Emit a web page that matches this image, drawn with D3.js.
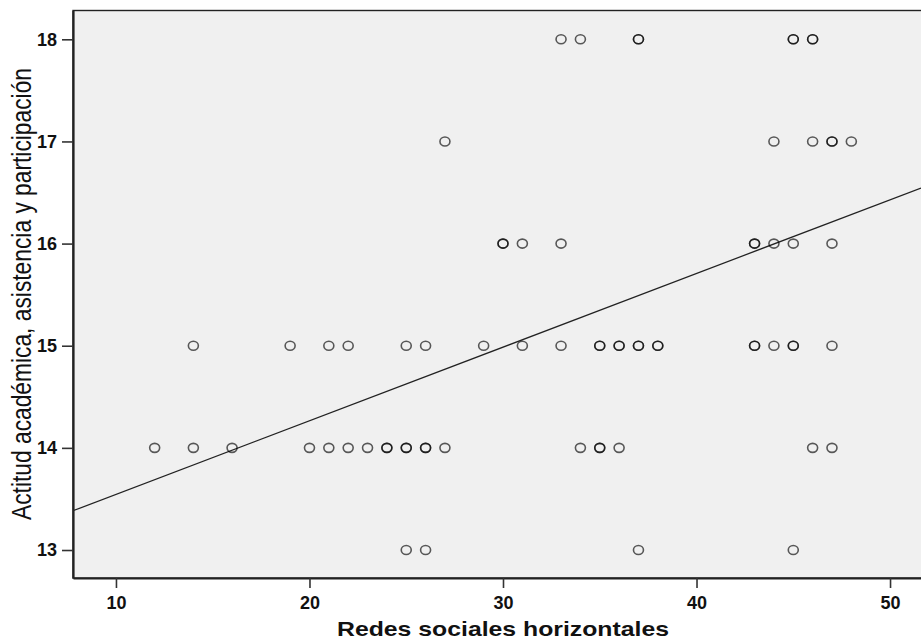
<!DOCTYPE html>
<html>
<head>
<meta charset="utf-8">
<script src="https://cdn.jsdelivr.net/npm/d3@7"></script>
<style>
  html, body { margin: 0; padding: 0; background: #ffffff; }
  svg { display: block; }
</style>
</head>
<body>
<svg id="chart" width="921" height="642"></svg>
<script>
// ---- data ----
const redesX = [
  33, 34, 37, 37, 45, 45, 46, 46,
  27, 44, 46, 47, 47, 48,
  30, 30, 31, 33, 43, 43, 44, 45, 47,
  14, 19, 21, 22, 25, 26, 29, 31, 33, 35, 35, 36, 36, 37, 37, 38, 38, 43, 43, 44, 45, 45, 47,
  12, 14, 16, 20, 21, 22, 23, 24, 24, 25, 25, 26, 26, 27, 34, 35, 35, 36, 46, 47,
  25, 26, 37, 45
];
const actitudY = [
  18, 18, 18, 18, 18, 18, 18, 18,
  17, 17, 17, 17, 17, 17,
  16, 16, 16, 16, 16, 16, 16, 16, 16,
  15, 15, 15, 15, 15, 15, 15, 15, 15, 15, 15, 15, 15, 15, 15, 15, 15, 15, 15, 15, 15, 15, 15,
  14, 14, 14, 14, 14, 14, 14, 14, 14, 14, 14, 14, 14, 14, 14, 14, 14, 14, 14, 14,
  13, 13, 13, 13
];
const xTicks = [10, 20, 30, 40, 50];
const yTicks = [13, 14, 15, 16, 17, 18];
const xDomain = [7.78, 51.6];
const yDomain = [12.726, 18.282];
// fitted line endpoints (x, y) at the edges of the plot
const fitX = [7.78, 51.6];
const fitY = [13.384, 16.544];
const xTitle = "Redes sociales horizontales";
const yTitle = "Actitud académica, asistencia y participación";

// ---- layout ----
const svg = d3.select("#chart");
const pLeft = 73, pRight = 921, pTop = 10.5, pBottom = 578;

const x = d3.scaleLinear().domain(xDomain).range([pLeft, pRight]);
const y = d3.scaleLinear().domain(yDomain).range([pBottom, pTop]);

svg.append("defs").append("clipPath").attr("id", "plotclip")
  .append("rect").attr("x", pLeft).attr("y", pTop)
  .attr("width", pRight - pLeft).attr("height", pBottom - pTop);

// plot background + frame
svg.append("rect")
  .attr("x", pLeft).attr("y", pTop)
  .attr("width", pRight - pLeft + 10).attr("height", pBottom - pTop)
  .attr("fill", "#f0f0f0")
  .attr("stroke", "#222").attr("stroke-width", 1.4);

const plot = svg.append("g").attr("clip-path", "url(#plotclip)");

// fit line
plot.append("line")
  .attr("x1", x(fitX[0])).attr("y1", y(fitY[0]))
  .attr("x2", x(fitX[1])).attr("y2", y(fitY[1]))
  .attr("stroke", "#222").attr("stroke-width", 1.25);

// points
plot.selectAll("ellipse.pt")
  .data(redesX.map((v, i) => ({ x: v, y: actitudY[i] })))
  .enter().append("ellipse")
  .attr("class", "pt")
  .attr("cx", d => x(d.x))
  .attr("cy", d => y(d.y))
  .attr("rx", 5.0)
  .attr("ry", 4.5)
  .attr("fill", "none")
  .attr("stroke", "#000")
  .attr("stroke-opacity", 0.64)
  .attr("stroke-width", 1.6);

// axes
const yAxis = d3.axisLeft(y).tickValues(yTicks).tickSize(11).tickSizeOuter(0).tickPadding(5)
  .tickFormat(d3.format("d"));
const xAxis = d3.axisBottom(x).tickValues(xTicks).tickSize(10).tickSizeOuter(0).tickPadding(8)
  .tickFormat(d3.format("d"));

const gy = svg.append("g").attr("transform", `translate(${pLeft},0)`).call(yAxis);
const gx = svg.append("g").attr("transform", `translate(0,${pBottom})`).call(xAxis);

[gx, gy].forEach(g => {
  g.select(".domain").attr("stroke", "#222").attr("stroke-width", 2.2);
  g.selectAll(".tick line").attr("stroke", "#333").attr("stroke-width", 1.6);
  g.selectAll(".tick text")
    .attr("fill", "#111")
    .style("font-family", "'Liberation Sans', Arial, sans-serif")
    .style("font-weight", "bold")
    .style("font-size", "18px");
});

// axis titles
svg.append("text")
  .attr("x", 503).attr("y", 636)
  .attr("text-anchor", "middle")
  .attr("textLength", 332).attr("lengthAdjust", "spacingAndGlyphs")
  .style("font-family", "'Liberation Sans', Arial, sans-serif")
  .style("font-weight", "bold")
  .style("font-size", "20.5px")
  .attr("fill", "#111")
  .text(xTitle);

svg.append("text")
  .attr("transform", "translate(31,294) scale(1.17,1) rotate(-90)")
  .attr("text-anchor", "middle")
  .attr("textLength", 452).attr("lengthAdjust", "spacingAndGlyphs")
  .style("font-family", "'Liberation Sans', Arial, sans-serif")
  .style("font-size", "23px")
  .attr("fill", "#111")
  .text(yTitle);
</script>
</body>
</html>
